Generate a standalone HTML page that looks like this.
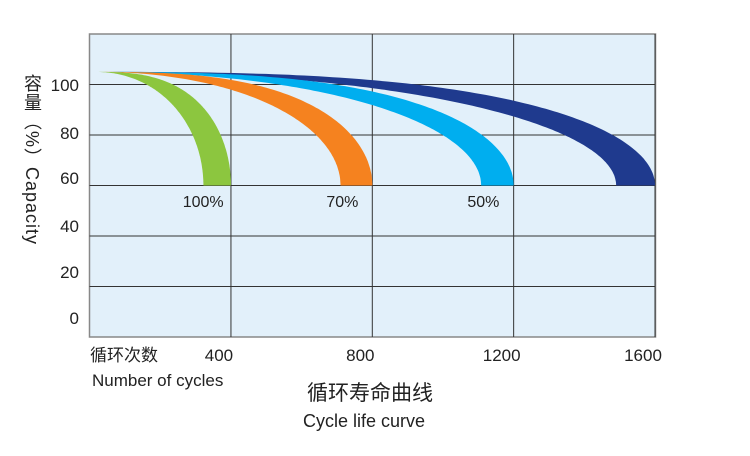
<!DOCTYPE html>
<html><head><meta charset="utf-8"><style>
body{margin:0;background:#fff;width:750px;height:456px;overflow:hidden;font-family:"Liberation Sans","Noto Sans CJK SC",sans-serif;color:#222}
svg text{font-family:"Liberation Sans","Noto Sans CJK SC",sans-serif;fill:#222}
.yt{position:absolute;left:19px;top:74px;writing-mode:vertical-rl;font-size:18px;color:#222;letter-spacing:1px}
</style></head><body>
<div class="yt">容量（%）Capacity</div>
<svg id="c" width="750" height="456" style="position:absolute;left:0;top:0"></svg>
<script>
const xTicks=[400,800,1200,1600];
const yTicks=[0,20,40,60,80,100];
const seriesNames=["100%","70%","50%","25%"];
const endLow=[322,710,1108,1490];
const endHigh=[400,800,1200,1600];
const startCycles=15, startCap=105, endCap=60;
const colors=["#8cc63f","#f5821f","#00aeef","#1f3a8e"];
const showLabel=[true,true,true,false];
const X=n=>89.6+n*(141.35/400);
const Y=v=>337-v*2.525;
const svg=document.getElementById('c');
const NS="http://www.w3.org/2000/svg";
function mk(t,a,txt){const e=document.createElementNS(NS,t);for(const k in a)e.setAttribute(k,a[k]);if(txt!=null)e.textContent=txt;svg.appendChild(e);return e;}
let bg=mk('rect',{x:89.5,y:34,width:566,height:303,fill:"#e2f0fa",stroke:"#888","stroke-width":1.5});


yTicks.forEach(v=>{if(v>0&&v<=100){let l=mk('line',{x1:89.5,x2:655,y1:Y(v),y2:Y(v),stroke:"#333","stroke-width":1});

}
const ly={0:318,20:272,40:226,60:178,80:133,100:85}[v];
let t=mk('text',{x:79,y:ly+6,"text-anchor":"end","font-size":17},String(v));

});
xTicks.forEach(v=>{let l=mk('line',{x1:X(v),x2:X(v),y1:34,y2:337,stroke:"#333","stroke-width":1});


let t=mk('text',{x:X(v)-12,y:361,"text-anchor":"middle","font-size":17},String(v));

});
function pts(end,n,rev){const x0=X(startCycles),y0=Y(startCap),xe=X(end),ye=Y(endCap);const a=[];
for(let k=0;k<=120;k++){const u=k/120;const t=1-Math.pow(1-u,2);const drop=1-Math.sqrt(Math.max(0,1-Math.pow(t,n)));a.push([x0+(xe-x0)*t,y0+(ye-y0)*drop]);}
if(rev)a.reverse();return a;}
for(let i=seriesNames.length-1;i>=0;i--){
const all=pts(endHigh[i],2.8,false).concat(pts(endLow[i],2.1,true));
const d="M"+all.map(p=>p[0].toFixed(1)+","+p[1].toFixed(1)).join(" L")+" Z";
let p=mk('path',{d:d,fill:colors[i]});


if(showLabel[i]){let t=mk('text',{x:(X(endLow[i])+X(endHigh[i]))/2-14,y:207,"text-anchor":"middle","font-size":16},seriesNames[i]);

}}
let t1=mk('text',{x:90,y:361,"font-size":17},"循环次数");


let t2=mk('text',{x:92,y:386,"font-size":17},"Number of cycles");


let t3=mk('text',{x:370,y:400,"text-anchor":"middle","font-size":21},"循环寿命曲线");


let t4=mk('text',{x:364,y:427,"text-anchor":"middle","font-size":18},"Cycle life curve");


</script>
</body></html>
